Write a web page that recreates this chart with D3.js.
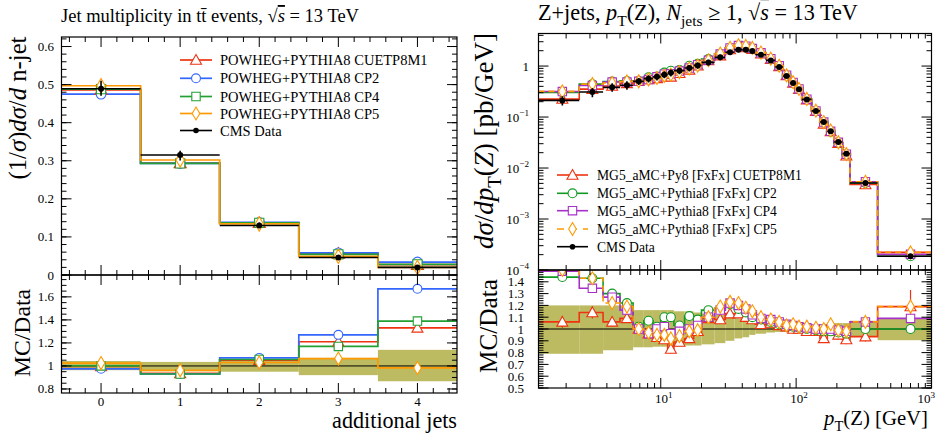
<!DOCTYPE html>
<html>
<meta charset="utf-8">
<head>
<style>
body { margin:0; padding:0; background:#fff; }
svg { display:block; font-family:"Liberation Serif", "DejaVu Serif", serif; }
</style>
</head>
<body>
<svg id="chart" width="936" height="434"></svg>
<script src="https://cdn.jsdelivr.net/npm/d3@7"></script>
<script>

// ---------- left panel: jet multiplicity in ttbar ----------
var njetBins  = [0, 1, 2, 3, 4];
var njetEdges = [-0.5, 0.5, 1.5, 2.5, 3.5, 4.5];
var njetData  = [0.489, 0.315, 0.130, 0.046, 0.020];
var njetBandLo = [0.963, 0.954, 0.95, 0.92, 0.867];   // data uncertainty (ratio band)
var njetBandHi = [1.043, 1.035, 1.06, 1.07, 1.14];
var njetCUETP8M1 = [0.486, 0.294, 0.137, 0.056, 0.027];
var njetCP2      = [0.475, 0.293, 0.138, 0.058, 0.034];
var njetCP4      = [0.488, 0.293, 0.137, 0.054, 0.028];
var njetCP5      = [0.497, 0.302, 0.134, 0.049, 0.020];
var njetRatioCUETP8M1 = [0.995, 0.935, 1.05, 1.21, 1.33];
var njetRatioCP2      = [0.975, 0.93, 1.07, 1.27, 1.67];
var njetRatioCP4      = [1.0, 0.93, 1.056, 1.17, 1.39];
var njetRatioCP5      = [1.025, 0.962, 1.03, 1.064, 0.983];
var njetYTicks  = [0, 0.1, 0.2, 0.3, 0.4, 0.5, 0.6];
var njetRTicks  = [0.8, 1, 1.2, 1.4, 1.6];

// ---------- right panel: Z pT, Njets >= 1 ----------
var ptEdges = [1.25, 2.5, 3.75, 5, 6.25, 7.5, 8.75, 10, 11.25, 12.5, 15, 17.5, 20, 25, 30, 35, 40, 45, 50,
               60, 70, 80, 90, 100, 110, 130, 150, 170, 190, 220, 250, 400, 1000];
var ptData = [0.212, 0.309, 0.382, 0.419, 0.501, 0.566, 0.614, 0.678, 0.736, 0.812, 0.914, 1.03, 1.18, 1.48,
              1.86, 2.10, 2.10, 1.97, 1.67, 1.29, 0.956, 0.637, 0.464, 0.349, 0.222, 0.132, 0.0798, 0.0525,
              0.0323, 0.0191, 0.00508, 0.000186];
var ptBandLo = [0.79, 0.79, 0.82, 0.82, 0.845, 0.845, 0.85, 0.85, 0.85, 0.85, 0.86, 0.86, 0.87, 0.88, 0.90,
                0.92, 0.93, 0.95, 0.96, 0.97, 0.975, 0.975, 0.975, 0.975, 0.975, 0.97, 0.97, 0.96, 0.955,
                0.95, 0.935, 0.905];
var ptBandHi = [1.20, 1.20, 1.20, 1.20, 1.16, 1.16, 1.16, 1.16, 1.16, 1.15, 1.15, 1.14, 1.13, 1.12, 1.10,
                1.09, 1.07, 1.05, 1.04, 1.03, 1.025, 1.025, 1.025, 1.025, 1.03, 1.03, 1.035, 1.04, 1.05,
                1.05, 1.07, 1.09];
var ptRatioCUETP8M1 = [1.06, 1.14, 1.06, 1.09, 1.0, 0.96, 0.93, 0.91, 0.83, 0.89, 0.92, 0.98, 1.09, 1.08, 1.13,
                       1.13, 1.10, 1.08, 1.04, 1.05, 1.03, 1.02, 1.0, 1.0, 0.98, 0.98, 0.92, 0.99, 0.95, 0.91,
                       0.935, 1.19];
var ptErrCUETP8M1 = [0.05, 0.05, 0.04, 0.04, 0.03, 0.03, 0.03, 0.03, 0.04, 0.03, 0.03, 0.02, 0.02, 0.02, 0.02,
                     0.02, 0.02, 0.02, 0.02, 0.02, 0.02, 0.02, 0.02, 0.02, 0.02, 0.02, 0.03, 0.03, 0.04, 0.04,
                     0.04, 0.14];
var ptRatioCP2 = [1.44, 1.43, 1.30, 1.22, 1.02, 1.07, 1.02, 1.10, 1.10, 1.03, 1.11, 1.08, 1.16, 1.17, 1.21,
                  1.17, 1.14, 1.10, 1.08, 1.06, 1.04, 1.03, 1.02, 1.01, 1.0, 0.99, 0.98, 0.98, 0.97, 0.96,
                  1.0, 1.0];
var ptRatioCP4 = [1.49, 1.345, 1.27, 1.16, 1.0, 0.96, 1.0, 1.02, 0.96, 0.98, 1.0, 1.03, 1.10, 1.16, 1.22,
                  1.20, 1.17, 1.12, 1.09, 1.08, 1.06, 1.04, 1.03, 1.02, 1.01, 1.0, 1.0, 1.0, 0.99, 0.98,
                  1.06, 1.09];
var ptRatioCP5 = [1.50, 1.43, 1.22, 1.19, 1.0, 0.97, 0.95, 0.95, 0.92, 0.94, 0.98, 0.99, 1.10, 1.19, 1.23,
                  1.22, 1.18, 1.15, 1.10, 1.08, 1.06, 1.03, 1.04, 1.02, 1.02, 1.01, 1.0, 1.04, 0.99, 0.98,
                  1.06, 1.19];
var ptXLabels = [10, 100, 1000];
var ptYLabels = [1e-4, 1e-3, 1e-2, 1e-1, 1];
var ptRTicks  = [0.5, 0.6, 0.7, 0.8, 0.9, 1, 1.1, 1.2, 1.3, 1.4];

var RED = "#ee3311", BLUE = "#3366ff", GREEN_L = "#22a033", ORANGE = "#ff9900",
    GREEN_R = "#119922", PURPLE = "#a830c8", BAND = "#bdbb62";

var svg = d3.select("#chart");

// scales
var xL  = d3.scaleLinear().domain([-0.5, 4.5]).range([61.5, 457]);
var yL  = d3.scaleLinear().domain([0, 0.625]).range([275, 37]);
var yLr = d3.scaleLinear().domain([0.765, 1.79]).range([393, 275]);
var xR  = d3.scaleLog().domain([1.25, 1000]).range([538.5, 931.5]);
var yR  = d3.scaleLog().domain([1e-4, 4.35]).range([270, 33.5]);
var yRr = d3.scaleLinear().domain([0.5, 1.5]).range([388, 270]);

var defs = svg.append("defs");
function clip(id, x, y) {
  defs.append("clipPath").attr("id", id).append("rect")
    .attr("x", x.range()[0]).attr("y", y.range()[1])
    .attr("width", x.range()[1] - x.range()[0]).attr("height", y.range()[0] - y.range()[1]);
  return "url(#" + id + ")";
}

function stepPath(edges, vals, x, y) {
  var p = "M" + x(edges[0]) + "," + y(vals[0]);
  for (var i = 0; i < vals.length; i++) {
    if (i > 0) p += "V" + y(vals[i]);
    p += "H" + x(edges[i + 1]);
  }
  return p;
}

function markerPath(type, s) {
  if (type == "tri") return "M0," + (-s * 0.55) + "L" + (s * 0.55) + "," + (s * 0.42) + "L" + (-s * 0.55) + "," + (s * 0.42) + "Z";
  if (type == "sq") return "M" + (-s * 0.42) + "," + (-s * 0.42) + "h" + (s * 0.84) + "v" + (s * 0.84) + "h" + (-s * 0.84) + "Z";
  if (type == "dia") return "M0," + (-s * 0.65) + "L" + (s * 0.38) + ",0L0," + (s * 0.65) + "L" + (-s * 0.38) + ",0Z";
  return d3.symbol().type(d3.symbolCircle).size(s * s * 0.62)();
}

function mark(g, type, cx, cy, color, s) {
  g.append("path").attr("d", markerPath(type, s))
    .attr("transform", "translate(" + cx + "," + cy + ")")
    .attr("fill", "#fff").attr("stroke", color).attr("stroke-width", 1.1);
}

// text with italic / sub / sup pieces; optional fit to a target width
function rich(g, x, y, parts, size, anchor, rot, fitW) {
  function build(sz) {
    var t = g.append("text").attr("x", x).attr("y", y).attr("font-size", sz)
      .attr("text-anchor", anchor || "start").attr("fill", "#000");
    if (rot) t.attr("transform", "rotate(-90," + x + "," + y + ")");
    var shift = 0;
    parts.forEach(function(p) {
      if (typeof p == "string") p = {t: p};
      var s = t.append("tspan").text(p.t);
      if (p.i) s.attr("font-style", "italic");
      var target = p.sub ? sz * 0.28 : p.sup ? -sz * 0.42 : 0;
      if (target != shift) { s.attr("dy", target - shift); shift = target; }
      if (p.sub || p.sup) s.attr("font-size", sz * 0.7);
      if (p.over) s.style("text-decoration", "overline");
    });
    return t;
  }
  var t = build(size);
  if (fitW) {
    var len = t.node().getComputedTextLength();
    t.remove();
    t = build(size * fitW / len);
  }
  return t;
}

// frame with inside ticks on all four sides
function frame(x, y, xMaj, xMin, yMaj, yMin) {
  var g = svg.append("g").attr("stroke", "#000").attr("stroke-width", 1).attr("fill", "none");
  var x0 = x.range()[0], x1 = x.range()[1], yb = y.range()[0], yt = y.range()[1];
  function tx(v, len) {
    var px = x(v);
    g.append("line").attr("x1", px).attr("x2", px).attr("y1", yb).attr("y2", yb - len);
    g.append("line").attr("x1", px).attr("x2", px).attr("y1", yt).attr("y2", yt + len);
  }
  function ty(v, len) {
    var py = y(v);
    g.append("line").attr("x1", x0).attr("x2", x0 + len).attr("y1", py).attr("y2", py);
    g.append("line").attr("x1", x1).attr("x2", x1 - len).attr("y1", py).attr("y2", py);
  }
  xMaj.forEach(function(v) { tx(v, 10); });
  xMin.forEach(function(v) { tx(v, 5); });
  yMaj.forEach(function(v) { ty(v, 10); });
  yMin.forEach(function(v) { ty(v, 5); });
  g.append("rect").attr("x", x0).attr("y", yt).attr("width", x1 - x0).attr("height", yb - yt)
    .attr("stroke-width", 1.2);
}

function logMinors(lo, hi) {
  var out = [];
  for (var e = -5; e <= 3; e++)
    for (var k = 2; k <= 9; k++) {
      var v = k * Math.pow(10, e);
      if (v > lo && v < hi) out.push(v);
    }
  return out;
}
function linMinors(lo, hi, step) {
  return d3.range(Math.ceil(lo / step - 1e-6) * step, hi, step).map(function(v) { return +v.toFixed(4); });
}

// ================= LEFT PANEL =================
var cL = clip("clipL", xL, yL), cLr = clip("clipLr", xL, yLr);
var leftSeries = [
  {main: njetCUETP8M1, ratio: njetRatioCUETP8M1, color: RED, m: "tri", name: "POWHEG+PYTHIA8 CUETP8M1"},
  {main: njetCP2, ratio: njetRatioCP2, color: BLUE, m: "circ", name: "POWHEG+PYTHIA8 CP2"},
  {main: njetCP4, ratio: njetRatioCP4, color: GREEN_L, m: "sq", name: "POWHEG+PYTHIA8 CP4"},
  {main: njetCP5, ratio: njetRatioCP5, color: ORANGE, m: "dia", name: "POWHEG+PYTHIA8 CP5"}
];

var gL = svg.append("g").attr("clip-path", cL);
leftSeries.forEach(function(s) {
  gL.append("path").attr("d", stepPath(njetEdges, s.main, xL, yL))
    .attr("fill", "none").attr("stroke", s.color).attr("stroke-width", 1.7);
});
leftSeries.forEach(function(s) {
  njetBins.forEach(function(b, i) { mark(gL, s.m, xL(b), yL(s.main[i]), s.color, 11); });
});
njetBins.forEach(function(b, i) {
  var d = njetData[i];
  gL.append("line").attr("x1", xL(njetEdges[i])).attr("x2", xL(njetEdges[i + 1]))
    .attr("y1", yL(d)).attr("y2", yL(d)).attr("stroke", "#000").attr("stroke-width", 1.6);
  gL.append("line").attr("x1", xL(b)).attr("x2", xL(b))
    .attr("y1", yL(d * njetBandLo[i])).attr("y2", yL(d * njetBandHi[i])).attr("stroke", "#000").attr("stroke-width", 1.6);
  gL.append("circle").attr("cx", xL(b)).attr("cy", yL(d)).attr("r", 3).attr("fill", "#000");
});

var gLr = svg.append("g").attr("clip-path", cLr);
njetBins.forEach(function(b, i) {
  gLr.append("rect").attr("x", xL(njetEdges[i])).attr("width", xL(njetEdges[i + 1]) - xL(njetEdges[i]))
    .attr("y", yLr(njetBandHi[i])).attr("height", yLr(njetBandLo[i]) - yLr(njetBandHi[i]))
    .attr("fill", BAND);
});
gLr.append("line").attr("x1", xL(-0.5)).attr("x2", xL(4.5)).attr("y1", yLr(1)).attr("y2", yLr(1))
  .attr("stroke", "#000").attr("stroke-width", 1);
leftSeries.forEach(function(s) {
  gLr.append("path").attr("d", stepPath(njetEdges, s.ratio, xL, yLr))
    .attr("fill", "none").attr("stroke", s.color).attr("stroke-width", 1.7);
});
leftSeries.forEach(function(s) {
  njetBins.forEach(function(b, i) { mark(gLr, s.m, xL(b), yLr(s.ratio[i]), s.color, 10); });
});

var nMin = linMinors(-0.5, 4.5, 0.2).filter(function(v) { return Math.abs(v - Math.round(v)) > 0.01; });
frame(xL, yL, njetBins, nMin, njetYTicks, linMinors(0, 0.625, 0.02));
frame(xL, yLr, njetBins, nMin, njetRTicks, linMinors(0.8, 1.79, 0.05));

var tl = svg.append("g").attr("font-size", 13);
njetYTicks.forEach(function(v) {
  tl.append("text").attr("x", 54).attr("y", yL(v) + 4.5).attr("text-anchor", "end").text(v == 0 ? "0" : v.toFixed(1));
});
njetRTicks.forEach(function(v) {
  tl.append("text").attr("x", 54).attr("y", yLr(v) + 4.5).attr("text-anchor", "end").text(v == 1 ? "1" : v.toFixed(1));
});
njetBins.forEach(function(v) {
  tl.append("text").attr("x", xL(v)).attr("y", 406).attr("text-anchor", "middle").text(v);
});

rich(svg, 61, 22, ["Jet multiplicity in tt\u0304 events, \u221A", {t: "s", i: 1, over: 1}, " = 13 TeV"], 17.5, "start", false, 298);
rich(svg, 26, 108, ["(1/", {t: "\u03C3", i: 1}, ")", {t: "d\u03C3", i: 1}, "/", {t: "d", i: 1}, " n-jet"], 20, "middle", true, 143);
rich(svg, 30, 333, ["MC/Data"], 22, "middle", true, 88);
rich(svg, 457, 428, ["additional jets"], 20, "end", false, 125);

// left legend
var legL = svg.append("g");
var legLY = [60, 78.3, 96.5, 113.5, 130.5];
leftSeries.forEach(function(s, i) {
  legL.append("line").attr("x1", 180).attr("x2", 212).attr("y1", legLY[i]).attr("y2", legLY[i])
    .attr("stroke", s.color).attr("stroke-width", 1.7);
  mark(legL, s.m, 196, legLY[i], s.color, 10);
  legL.append("text").attr("x", 220).attr("y", legLY[i] + 5).attr("font-size", 14.5).text(s.name);
});
legL.append("line").attr("x1", 180).attr("x2", 212).attr("y1", legLY[4]).attr("y2", legLY[4]).attr("stroke", "#000").attr("stroke-width", 1.6);
legL.append("circle").attr("cx", 196).attr("cy", legLY[4]).attr("r", 2.8).attr("fill", "#000");
legL.append("text").attr("x", 220).attr("y", legLY[4] + 5).attr("font-size", 14.5).text("CMS Data");

// ================= RIGHT PANEL =================
var cR = clip("clipR", xR, yR), cRr = clip("clipRr", xR, yRr);
var ptMid = ptData.map(function(d, i) { return (ptEdges[i] + ptEdges[i + 1]) / 2; });
var rightSeries = [
  {ratio: ptRatioCUETP8M1, color: RED, m: "tri", dash: null, name: "MG5_aMC+Py8 [FxFx] CUETP8M1"},
  {ratio: ptRatioCP2, color: GREEN_R, m: "circ", dash: null, name: "MG5_aMC+Pythia8 [FxFx] CP2"},
  {ratio: ptRatioCP4, color: PURPLE, m: "sq", dash: null, name: "MG5_aMC+Pythia8 [FxFx] CP4"},
  {ratio: ptRatioCP5, color: ORANGE, m: "dia", dash: "6,4", name: "MG5_aMC+Pythia8 [FxFx] CP5"}
];
// prediction = ratio * data, as plotted
rightSeries.forEach(function(s) { s.main = s.ratio.map(function(r, i) { return r * ptData[i]; }); });

var gR = svg.append("g").attr("clip-path", cR);
rightSeries.forEach(function(s) {
  gR.append("path").attr("d", stepPath(ptEdges, s.main, xR, yR))
    .attr("fill", "none").attr("stroke", s.color).attr("stroke-width", 1.6).attr("stroke-dasharray", s.dash);
  ptMid.forEach(function(m, i) { mark(gR, s.m, xR(m), yR(s.main[i]), s.color, 10); });
});
ptMid.forEach(function(m, i) {
  var d = ptData[i];
  gR.append("line").attr("x1", xR(ptEdges[i])).attr("x2", xR(ptEdges[i + 1]))
    .attr("y1", yR(d)).attr("y2", yR(d)).attr("stroke", "#000").attr("stroke-width", 1.6);
  gR.append("line").attr("x1", xR(m)).attr("x2", xR(m))
    .attr("y1", yR(d * ptBandLo[i])).attr("y2", yR(d * ptBandHi[i])).attr("stroke", "#000").attr("stroke-width", 1.6);
  gR.append("circle").attr("cx", xR(m)).attr("cy", yR(d)).attr("r", 3).attr("fill", "#000");
});

var gRr = svg.append("g").attr("clip-path", cRr);
ptMid.forEach(function(m, i) {
  gRr.append("rect").attr("x", xR(ptEdges[i])).attr("width", xR(ptEdges[i + 1]) - xR(ptEdges[i]))
    .attr("y", yRr(ptBandHi[i])).attr("height", yRr(ptBandLo[i]) - yRr(ptBandHi[i]))
    .attr("fill", BAND);
});
gRr.append("line").attr("x1", xR(1.25)).attr("x2", xR(1000)).attr("y1", yRr(1)).attr("y2", yRr(1))
  .attr("stroke", "#000").attr("stroke-width", 1);
rightSeries.forEach(function(s, k) {
  gRr.append("path").attr("d", stepPath(ptEdges, s.ratio, xR, yRr))
    .attr("fill", "none").attr("stroke", s.color).attr("stroke-width", 1.6).attr("stroke-dasharray", s.dash);
  ptMid.forEach(function(m, i) {
    if (k == 0) {
      var e = ptErrCUETP8M1[i];
      gRr.append("line").attr("x1", xR(m)).attr("x2", xR(m)).attr("y1", yRr(s.ratio[i] - e)).attr("y2", yRr(s.ratio[i] + e))
        .attr("stroke", s.color).attr("stroke-width", 1.2);
    }
    mark(gRr, s.m, xR(m), yRr(s.ratio[i]), s.color, 10);
  });
});

var rMin = logMinors(1.25, 1000);
frame(xR, yR, ptXLabels, rMin, ptYLabels, logMinors(1e-4, 4.35));
frame(xR, yRr, ptXLabels, rMin, ptRTicks, linMinors(0.5, 1.5, 0.02));

function pow10(g, x, y, v, anchor) {
  var e = Math.round(Math.log10(v));
  if (e == 0) return g.append("text").attr("x", x).attr("y", y).attr("text-anchor", anchor).attr("font-size", 13).text("1");
  return rich(g, x, y, ["10", {t: e < 0 ? "\u2212" + (-e) : "" + e, sup: 1}], 13, anchor);
}
ptYLabels.forEach(function(v) { pow10(svg, 529, yR(v) + 4.5, v, "end"); });
ptXLabels.forEach(function(v) {
  if (v == 1000) pow10(svg, 935, 403, v, "end");
  else pow10(svg, xR(v) + 3, 403, v, "middle");
});
ptRTicks.forEach(function(v) {
  svg.append("text").attr("x", 524).attr("y", yRr(v) + 4.5).attr("text-anchor", "end").attr("font-size", 13)
    .text(v == 1 ? "1" : v.toFixed(1));
});

rich(svg, 538, 20, ["Z+jets, ", {t: "p", i: 1}, {t: "T", sub: 1}, "(Z), ", {t: "N", i: 1}, {t: "jets", sub: 1},
  " \u2265 1, \u221A", {t: "s", i: 1, over: 1}, " = 13 TeV"], 18, "start", false, 320);
rich(svg, 493, 141, [{t: "d\u03C3", i: 1}, "/", {t: "dp", i: 1}, {t: "T", sub: 1}, "(", {t: "Z", i: 1}, ") [pb/GeV]"], 19, "middle", true, 216);
rich(svg, 497, 326, ["MC/Data"], 21, "middle", true, 94);
rich(svg, 928, 425, [{t: "p", i: 1}, {t: "T", sub: 1}, "(Z) [GeV]"], 20, "end", false, 104);

// right legend
var legR = svg.append("g");
var legRY = [175, 193.3, 210.7, 229, 246.7];
var legSize = 14.5;
var probe = legR.append("text").attr("font-size", 14.5).text(rightSeries[0].name);
legSize = 14.5 * 205 / probe.node().getComputedTextLength();
probe.remove();
rightSeries.forEach(function(s, i) {
  legR.append("line").attr("x1", 557).attr("x2", 588).attr("y1", legRY[i]).attr("y2", legRY[i])
    .attr("stroke", s.color).attr("stroke-width", 1.6).attr("stroke-dasharray", s.dash ? "7,6" : null);
  mark(legR, s.m, 572.5, legRY[i], s.color, 10);
  legR.append("text").attr("x", 597).attr("y", legRY[i] + 5).attr("font-size", legSize).text(s.name);
});
legR.append("line").attr("x1", 557).attr("x2", 588).attr("y1", legRY[4]).attr("y2", legRY[4]).attr("stroke", "#000").attr("stroke-width", 1.6);
legR.append("circle").attr("cx", 572.5).attr("cy", legRY[4]).attr("r", 2.8).attr("fill", "#000");
legR.append("text").attr("x", 597).attr("y", legRY[4] + 5).attr("font-size", legSize).text("CMS Data");

</script>
</body>
</html>
